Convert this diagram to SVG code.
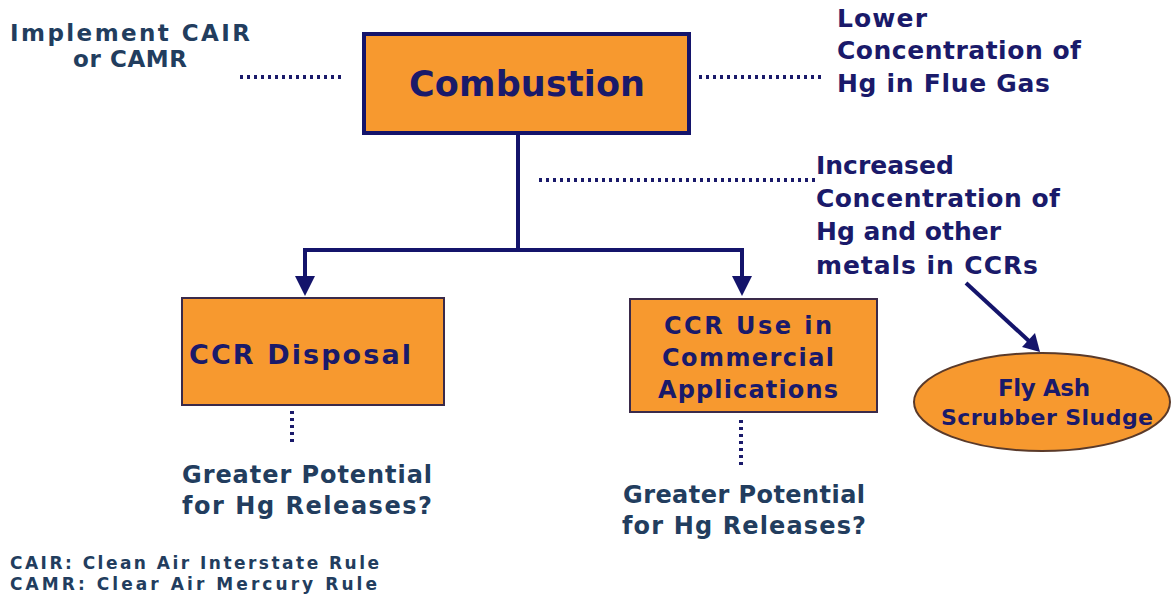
<svg xmlns="http://www.w3.org/2000/svg" width="1174" height="598" viewBox="0 0 1174 598">
<defs>
<style>
.t{font-family:"DejaVu Sans",Verdana,sans-serif;font-weight:bold;fill:#1a1a6a}
.g{font-family:"DejaVu Sans",Verdana,sans-serif;font-weight:bold;fill:#223d5e}
.box{fill:#f7992f;stroke:#3a2a4a;stroke-width:2}
.dot{stroke:#1a1a6a;stroke-width:4;stroke-dasharray:3 4;fill:none}
.ln{stroke:#14146b;stroke-width:4;fill:none}
</style>
</defs>
<rect width="1174" height="598" fill="#ffffff"/>
<g id="connectors">
<path class="ln" d="M518 133 V250 M305 250 H742"/>
<path class="ln" d="M305 248 V280 M742 248 V280"/>
<polygon points="295,276 315,276 305,296" fill="#14146b"/>
<polygon points="732,276 752,276 742,296" fill="#14146b"/>
<path class="ln" d="M966 283 L1030 342"/>
<polygon points="1022,347 1035,333 1040,352" fill="#14146b"/>
<path class="dot" d="M240 77 H345"/>
<path class="dot" d="M699 77 H822"/>
<path class="dot" d="M539 180 H815"/>
<path class="dot" d="M292 411 V442"/>
<path class="dot" d="M741 420 V468"/>
</g>
<g id="combustion">
<rect x="364" y="34" width="325" height="99" fill="#f7992f" stroke="#14146b" stroke-width="4"/>
<text class="t" x="527" y="96" font-size="35" text-anchor="middle" fill="#14145a" textLength="236">Combustion</text>
</g>
<g id="implement">
<text class="g" x="130" y="41" font-size="23" text-anchor="middle" textLength="240">Implement CAIR</text>
<text class="g" x="130" y="67" font-size="23" text-anchor="middle" textLength="114">or CAMR</text>
</g>
<g id="lower">
<text class="t" x="837" y="27" font-size="25" textLength="90">Lower</text>
<text class="t" x="837" y="59" font-size="25" textLength="244">Concentration of</text>
<text class="t" x="837" y="92" font-size="25" textLength="213">Hg in Flue Gas</text>
</g>
<g id="increased">
<text class="t" x="816" y="174" font-size="25">Increased</text>
<text class="t" x="816" y="207" font-size="25" textLength="244">Concentration of</text>
<text class="t" x="816" y="240" font-size="25" textLength="185">Hg and other</text>
<text class="t" x="816" y="274" font-size="25" textLength="222">metals in CCRs</text>
</g>
<g id="ccr-disposal">
<rect class="box" x="182" y="298" width="262" height="107"/>
<text class="t" x="300" y="364" font-size="27" text-anchor="middle" textLength="222" fill="#221b4a">CCR Disposal</text>
</g>
<g id="ccr-use">
<rect class="box" x="630" y="299" width="247" height="113"/>
<text class="t" x="748" y="334" font-size="24" text-anchor="middle" textLength="168" fill="#221b4a">CCR Use in</text>
<text class="t" x="748" y="366" font-size="24" text-anchor="middle" textLength="172" fill="#221b4a">Commercial</text>
<text class="t" x="748" y="398" font-size="24" text-anchor="middle" textLength="180" fill="#221b4a">Applications</text>
</g>
<g id="flyash">
<ellipse cx="1042" cy="402" rx="128" ry="49" fill="#f7992f" stroke="#5a3a2a" stroke-width="2"/>
<text class="t" x="1044" y="396" font-size="23" text-anchor="middle" textLength="92" fill="#221b4a">Fly Ash</text>
<text class="t" x="1047" y="425" font-size="22" text-anchor="middle" textLength="212" fill="#221b4a">Scrubber Sludge</text>
</g>
<g id="greater-left">
<text class="g" x="307" y="483" font-size="24" text-anchor="middle" textLength="250" fill="#20205e">Greater Potential</text>
<text class="g" x="307" y="514" font-size="24" text-anchor="middle" textLength="250" fill="#20205e">for Hg Releases?</text>
</g>
<g id="greater-right">
<text class="g" x="744" y="503" font-size="24" text-anchor="middle" textLength="242" fill="#20205e">Greater Potential</text>
<text class="g" x="744" y="534" font-size="24" text-anchor="middle" textLength="244" fill="#20205e">for Hg Releases?</text>
</g>
<g id="legend">
<text class="g" x="10" y="569" font-size="17" textLength="369">CAIR: Clean Air Interstate Rule</text>
<text class="g" x="10" y="590" font-size="17" textLength="367">CAMR: Clear Air Mercury Rule</text>
</g>
</svg>
